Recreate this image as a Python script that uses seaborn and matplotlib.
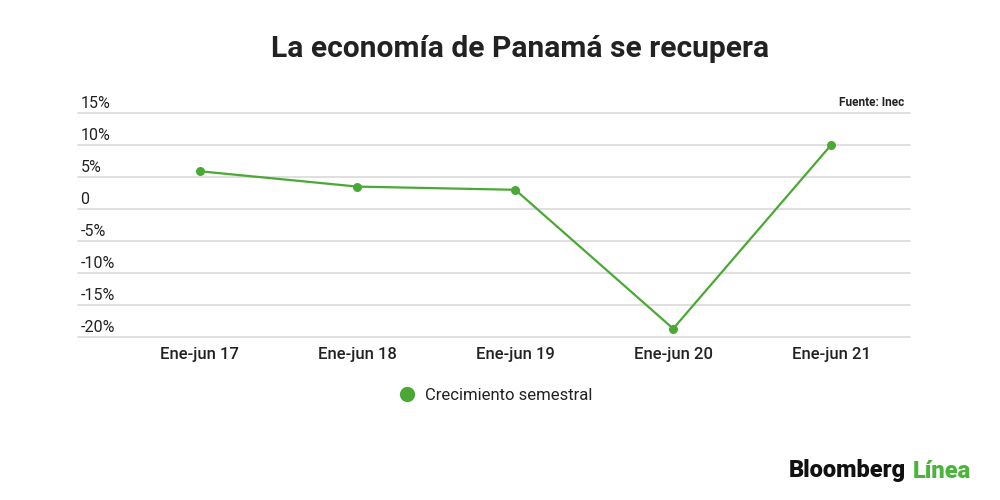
import pandas as pd
import matplotlib.pyplot as plt
import matplotlib.transforms as mtransforms
from matplotlib.lines import Line2D
import seaborn as sns

# === Datos ===
periodos = ["Ene-jun 17", "Ene-jun 18", "Ene-jun 19", "Ene-jun 20", "Ene-jun 21"]
crecimiento = [5.9, 3.5, 3.0, -18.7, 10.0]
yticks = [-20, -15, -10, -5, 0, 5, 10, 15]
ytick_labels = ["-20%", "-15%", "-10%", "-5%", "0", "5%", "10%", "15%"]

verde = "#4aa934"
texto = "#222222"

sns.set_theme(style="white")
plt.rcParams["font.family"] = ["Roboto", "DejaVu Sans"]

df = pd.DataFrame({"periodo": periodos, "valor": crecimiento})
df["pos"] = range(len(df))

fig = plt.figure(figsize=(10, 5), dpi=100)
ax = fig.add_axes([0.078, 0.326, 0.832, 0.448])

sns.lineplot(data=df, x="pos", y="valor", ax=ax, color=verde, linewidth=1.6,
             marker="o", markersize=6.5, markeredgewidth=0, markerfacecolor=verde)

ax.set_xlim(-0.77, 4.5)
ax.set_ylim(-20, 15)
ax.set_yticks(yticks)
ax.set_yticklabels([])
ax.tick_params(axis="y", length=0)
ax.grid(axis="y", color="#d9d9d9", linewidth=1.2)
for gl in ax.get_ygridlines():
    gl.set_clip_on(False)
ax.set_axisbelow(True)
for s in ax.spines.values():
    s.set_visible(False)

# etiquetas del eje y, encima de cada linea
trans = mtransforms.blended_transform_factory(ax.transAxes, ax.transData)
trans = mtransforms.offset_copy(trans, fig=fig, x=0, y=9, units="dots")
for v, lab in zip(yticks, ytick_labels):
    ax.text(0.003, v, lab, transform=trans, ha="left", va="center",
            fontsize=11.5, color=texto)

ax.set_xticks(df["pos"])
ax.set_xticklabels(periodos, fontsize=12, color=texto, fontweight="medium")
ax.tick_params(axis="x", length=0, pad=7)
ax.set_xlabel("")
ax.set_ylabel("")

# === Leyenda ===
handle = Line2D([], [], marker="o", linestyle="none", markersize=11,
                markerfacecolor=verde, markeredgewidth=0)
ax.legend([handle], ["Crecimiento semestral"], loc="center",
          bbox_to_anchor=(0.4915, 0.209), bbox_transform=fig.transFigure,
          frameon=False, fontsize=12, handletextpad=0.1, labelcolor=texto)

# === Textos ===
fig.text(0.52, 0.902, "La economía de Panamá se recupera", ha="center", va="center",
         fontsize=21.6, fontweight="bold", color=texto)
fig.text(0.904, 0.796, "Fuente: Inec", ha="right", va="center",
         fontsize=8.5, fontweight="bold", color=texto)
fig.text(0.906, 0.058, "Bloomberg", ha="right", va="center",
         fontsize=17, fontweight="heavy", color="#111111")
fig.text(0.913, 0.058, "Línea", ha="left", va="center",
         fontsize=17, fontweight="heavy", color="#4db33d")

fig.savefig("out.png", dpi=100, facecolor="white")
plt.close(fig)
